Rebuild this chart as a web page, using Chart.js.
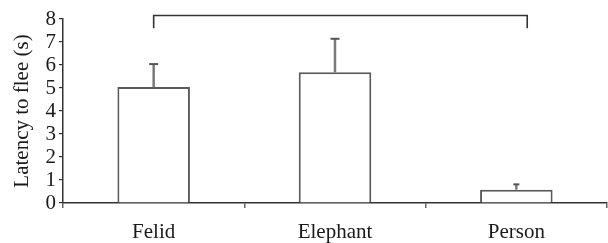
<!DOCTYPE html>
<html>
<head>
<meta charset="utf-8">
<script src="https://cdn.jsdelivr.net/npm/chart.js@4.4.1/dist/chart.umd.min.js"></script>
<style>
  html, body { margin: 0; padding: 0; background: #fff; }
  #wrap { width: 608px; height: 243px; position: relative; }
</style>
</head>
<body>
<div id="wrap"><canvas id="c"></canvas></div>
<script>
const categories = ['Felid', 'Elephant', 'Person'];
const latency = [5.04, 5.68, 0.58];
const errorUpper = [6.04, 7.14, 0.81];
const yTicks = [0, 1, 2, 3, 4, 5, 6, 7, 8];
const bracketFrom = 0;      // category index
const bracketTo = 2.06;     // category index (slightly right of Person)
const bracketLevel = 8.15;  // y value of the horizontal line
const bracketDrop = 7.6;    // y value of the ends

const serif = '"Liberation Serif", "Times New Roman", serif';

const extras = {
  id: 'extras',
  afterDatasetsDraw(chart) {
    const ctx = chart.ctx;
    const xs = chart.scales.x, ys = chart.scales.y;
    const meta = chart.getDatasetMeta(0);
    ctx.save();
    meta.data.forEach((bar, i) => {
      const x = bar.x;
      const yTop = ys.getPixelForValue(errorUpper[i]);
      const yBar = ys.getPixelForValue(latency[i]);
      ctx.strokeStyle = '#7a7a7a';
      ctx.lineWidth = 2.5;
      ctx.beginPath();
      ctx.moveTo(x, yBar);
      ctx.lineTo(x, yTop);
      ctx.stroke();
      const cap = i === 2 ? 3 : 4.5;
      ctx.strokeStyle = '#555';
      ctx.lineWidth = 2;
      ctx.beginPath();
      ctx.moveTo(x - cap, yTop);
      ctx.lineTo(x + cap, yTop);
      ctx.stroke();
    });
    const x1 = xs.getPixelForValue(bracketFrom);
    const x2 = xs.getPixelForValue(bracketTo);
    const yl = ys.getPixelForValue(bracketLevel);
    const yd = ys.getPixelForValue(bracketDrop);
    ctx.strokeStyle = '#333';
    ctx.lineWidth = 1.6;
    ctx.beginPath();
    ctx.moveTo(x1, yd);
    ctx.lineTo(x1, yl);
    ctx.lineTo(x2, yl);
    ctx.lineTo(x2, yd);
    ctx.stroke();
    ctx.restore();
  }
};

new Chart(document.getElementById('c'), {
  type: 'bar',
  data: {
    labels: categories,
    datasets: [{
      data: latency,
      backgroundColor: '#ffffff',
      borderColor: '#5a5a5a',
      borderWidth: 2,
      borderSkipped: 'bottom',
      barPercentage: 0.4,
      categoryPercentage: 1.0
    }]
  },
  options: {
    responsive: true,
    maintainAspectRatio: false,
    animation: false,
    devicePixelRatio: 1,
    layout: { padding: { top: 19, right: 1, left: 0, bottom: 0 } },
    plugins: { legend: { display: false }, tooltip: { enabled: false } },
    scales: {
      x: {
        offset: true,
        grid: { display: true, offset: true, drawOnChartArea: false, drawTicks: true, tickLength: 5, color: '#666', lineWidth: 1.5 },
        border: { display: true, color: '#333', width: 1.5 },
        ticks: { font: { family: serif, size: 21 }, color: '#1a1a1a', padding: 12, autoSkip: false, maxRotation: 0 },
        afterFit(s) { s.height = 40; }
      },
      y: {
        min: 0, max: 8,
        afterBuildTicks(s) { s.ticks = yTicks.map(v => ({ value: v })); },
        grid: { display: true, drawOnChartArea: false, drawTicks: true, tickLength: 4, color: '#333', lineWidth: 1.2 },
        border: { display: true, color: '#333', width: 1.5 },
        ticks: { font: { family: serif, size: 21 }, color: '#1a1a1a', padding: 3, autoSkip: false },
        title: { display: true, text: 'Latency to flee (s)', font: { family: serif, size: 21 }, color: '#1a1a1a', padding: { top: 10, bottom: 0 } },
        afterFit(s) { s.width = 63; }
      }
    }
  },
  plugins: [extras]
});
</script>
</body>
</html>
